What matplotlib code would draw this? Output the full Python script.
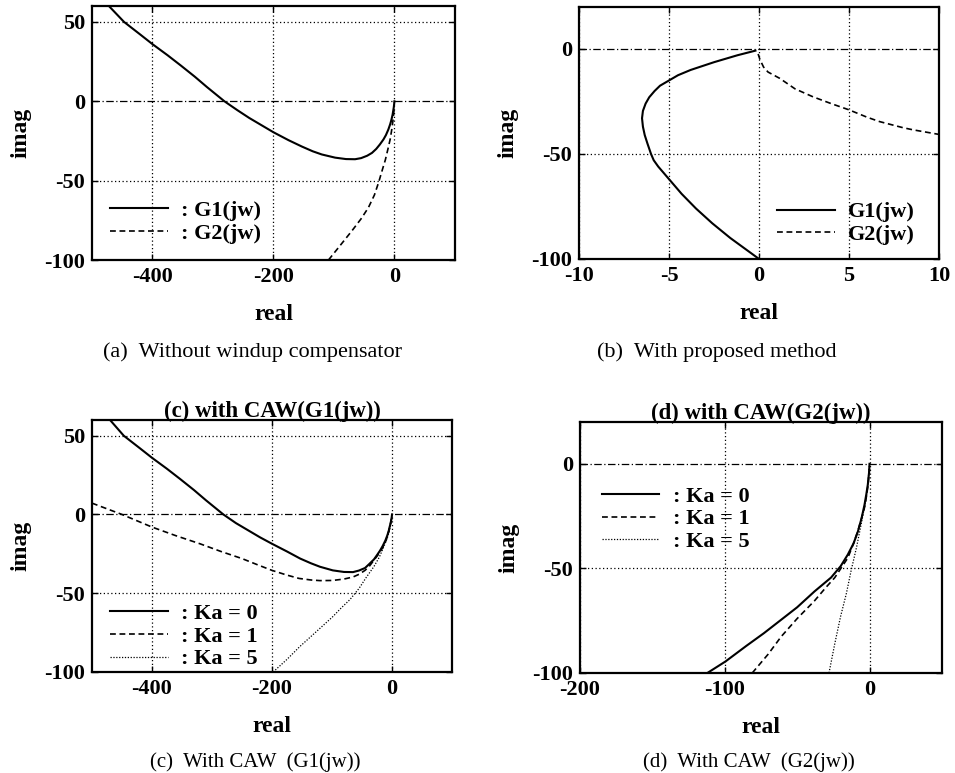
import numpy as np
import matplotlib
matplotlib.use("Agg")
import matplotlib.pyplot as plt

plt.rcParams['font.family'] = ['Liberation Serif', 'DejaVu Serif']
plt.rcParams['axes.unicode_minus'] = False

# --- data ---
# (a) without windup compensator
a_g1_re = [-472, -447, -420, -400, -375, -353, -330, -310, -281, -260, -240, -220, -200, -175,
           -153, -135, -120, -98, -80, -65, -55, -45, -37, -30, -24, -18, -14, -10, -7, -5, -3, -2, -1, -0.3, 0]
a_g1_im = [60, 50, 42, 36, 29, 22.5, 15.5, 9, 0, -5.5, -10.5, -15, -19.5, -24.5,
           -28.5, -31.5, -33.5, -35.5, -36.4, -36.5, -35.8, -34.3, -32.5, -30, -27.2, -24, -21.3, -17.8, -14.5, -11.8, -8.5, -6.2, -3.8, -1.5, 0]
a_g2_re = [-109, -90, -70, -55, -43, -33, -26, -19, -15, -10, -7, -4, -2, -0.5]
a_g2_im = [-100, -91, -81.5, -74, -67, -59, -51, -42, -37, -29, -24, -17, -11, -5]

# (b) with proposed method
b_g1_re = [-0.2, -1.2, -2.5, -3.8, -4.5, -5, -5.5, -5.8, -6.1, -6.3, -6.45, -6.5, -6.45, -6.35, -6.2, -6.0,
           -5.85, -5.6, -5.3, -5, -4.3, -3.5, -2.6, -1.6, -0.8, 0]
b_g1_im = [-0.8, -3, -6.3, -10, -12.5, -15, -17.5, -20, -23, -26, -29.5, -33, -37, -41, -45, -50,
           -53, -56, -59, -62, -69, -76, -83, -90, -95, -100]
b_g2_re = [-0.05, 0.05, 0.25, 0.5, 1.15, 2, 3, 4, 5, 6, 6.7, 8, 8.55, 10]
b_g2_im = [-2.4, -5, -8.6, -11, -14, -19, -22.8, -26, -29, -32.5, -34.6, -37.5, -38.5, -40.7]

# (c) with CAW, G1
c_k0_re = [-469, -447, -420, -400, -375, -353, -330, -310, -281, -260, -240, -220, -200, -175, -153, -135,
           -120, -98.6, -80, -65, -55, -45, -38, -30, -25, -20, -15.5, -11, -8, -5.5, -4, -2.5, -1, -0.3, 0]
c_k0_im = [59.6, 50, 42, 36, 29, 22.5, 15.5, 9, 0, -5.5, -10, -14.5, -18.6, -23.5, -28, -31,
           -33.2, -35.5, -36.5, -36.6, -35.6, -34, -31.5, -28.5, -25.8, -23, -20, -16.5, -13.5, -10.5, -8, -5.8, -3, -1.2, 0]
c_k1_re = [-500, -450, -400, -360, -320, -285, -250, -225, -200, -175, -155, -135, -120, -99, -80, -65,
           -55, -45, -38, -30, -22, -15, -10, -6, -4, -2, -1, 0]
c_k1_im = [7.2, 0, -8, -13.5, -18.6, -23.5, -28, -31.8, -35.5, -38.5, -40.6, -41.6, -42, -41.9, -41, -39.7,
           -38, -35.5, -33, -29, -25, -20.7, -16.5, -11.5, -8.3, -5, -3, 0]
c_k5_re = [-198, -175, -154, -125, -99, -85, -70, -55, -43, -30, -21, -12, -7, -4, -2, -0.5, 0]
c_k5_im = [-100, -92, -84, -74, -65, -59.5, -54, -47, -40, -33, -27, -19, -14, -9.5, -6, -2, 0]

# (d) with CAW, G2
d_k0_re = [-112, -99.5, -85, -73, -60, -50, -38, -26.6, -20, -15, -11, -8, -5.5, -3.5, -2.2, -1.2, -0.3, 0]
d_k0_im = [-100, -94.5, -87, -81, -74, -68.6, -61, -54.4, -49, -43.4, -38, -32.3, -26, -19.7, -14.5, -10, -4, 0]
d_k1_re = [-81, -70, -61, -50, -38, -30, -24, -15, -11, -8, -5.5, -3.5, -2, -1, 0]
d_k1_im = [-100, -91, -82.6, -74, -65.5, -59, -54.4, -45, -38, -32, -26, -21, -15, -10, -2.4]
d_k5_re = [-28, -24, -20, -16, -12.7, -9, -5.8, -4, -2.3, -1.2, -0.5, 0]
d_k5_im = [-100, -86, -73, -62, -51, -40, -29, -22.5, -16.6, -10.5, -4, 0]

ka_labels = [': Ka = 0', ': Ka = 1', ': Ka = 5']

SOLID = '-'
DASH = (0, (3.5, 2.2))
DOT = (0, (1, 1.3))

fig = plt.figure(figsize=(9.55, 7.73), dpi=100)


def setup(ax, xlim, ylim, xticks, yticks):
    ax.set_xlim(*xlim)
    ax.set_ylim(*ylim)
    ax.set_xticks(xticks)
    ax.set_yticks(yticks)
    for x in xticks:
        ax.axvline(x, color='k', lw=0.9, ls=(0, (1, 2)), zorder=1)
    for y in yticks:
        if y == 0:
            ax.axhline(0, color='k', lw=0.9, ls=(0, (6, 2, 1, 2)), zorder=1)
        else:
            ax.axhline(y, color='k', lw=0.9, ls=(0, (1, 2)), zorder=1)
    ax.tick_params(direction='in', top=True, right=True, length=4, width=1,
                   labelsize=16, pad=5)
    for lab in ax.get_xticklabels() + ax.get_yticklabels():
        lab.set_fontweight('bold')
    for s in ax.spines.values():
        s.set_linewidth(1.6)
    ax.set_xlabel('real', fontsize=17, fontweight='bold', labelpad=12)
    ax.set_ylabel('imag', fontsize=17, fontweight='bold', labelpad=9)


leg_kw = dict(frameon=False, handlelength=2.6, handletextpad=0.6,
              labelspacing=0.1, borderaxespad=0, borderpad=0,
              prop={'size': 16, 'weight': 'bold'})

# (a)
ax = fig.add_axes([0.0963, 0.6636, 0.380, 0.3286])
setup(ax, (-500, 100), (-100, 60), [-400, -200, 0], [-100, -50, 0, 50])
ax.plot(a_g1_re, a_g1_im, color='k', lw=1.5, ls=SOLID, label=': G1(jw)')
ax.plot(a_g2_re, a_g2_im, color='k', lw=1.2, ls=DASH, label=': G2(jw)')
ax.legend(loc='lower left', bbox_to_anchor=(0.05, 0.065), **leg_kw)
fig.text(0.264, 0.545, '(a)  Without windup compensator', ha='center', va='center',
         fontsize=16)

# (b)
ax = fig.add_axes([0.6063, 0.665, 0.377, 0.326])
setup(ax, (-10, 10), (-100, 20), [-10, -5, 0, 5, 10], [-100, -50, 0])
ax.plot(b_g1_re, b_g1_im, color='k', lw=1.5, ls=SOLID, label='G1(jw)')
ax.plot(b_g2_re, b_g2_im, color='k', lw=1.2, ls=DASH, label='G2(jw)')
ax.legend(loc='lower left', bbox_to_anchor=(0.55, 0.055), **leg_kw)
fig.text(0.75, 0.545, '(b)  With proposed method', ha='center', va='center',
         fontsize=16)

# (c)
ax = fig.add_axes([0.0963, 0.1307, 0.377, 0.326])
setup(ax, (-500, 100), (-100, 60), [-400, -200, 0], [-100, -50, 0, 50])
ax.plot(c_k0_re, c_k0_im, color='k', lw=1.5, ls=SOLID, label=ka_labels[0])
ax.plot(c_k1_re, c_k1_im, color='k', lw=1.2, ls=DASH, label=ka_labels[1])
ax.plot(c_k5_re, c_k5_im, color='k', lw=0.9, ls=DOT, label=ka_labels[2])
ax.set_title('(c) with CAW(G1(jw))', fontsize=16.5, fontweight='bold', pad=2)
ax.legend(loc='lower left', bbox_to_anchor=(0.05, 0.01), **leg_kw)
fig.text(0.267, 0.014, '(c)  With CAW  (G1(jw))', ha='center', va='center',
         fontsize=15)

# (d)
ax = fig.add_axes([0.6073, 0.1294, 0.379, 0.3247])
setup(ax, (-200, 50), (-100, 20), [-200, -100, 0], [-100, -50, 0])
ax.plot(d_k0_re, d_k0_im, color='k', lw=1.5, ls=SOLID, label=ka_labels[0])
ax.plot(d_k1_re, d_k1_im, color='k', lw=1.2, ls=DASH, label=ka_labels[1])
ax.plot(d_k5_re, d_k5_im, color='k', lw=0.9, ls=DOT, label=ka_labels[2])
ax.set_title('(d) with CAW(G2(jw))', fontsize=16.5, fontweight='bold', pad=2)
ax.legend(loc='upper left', bbox_to_anchor=(0.06, 0.745), **leg_kw)
fig.text(0.784, 0.014, '(d)  With CAW  (G2(jw))', ha='center', va='center',
         fontsize=15)

fig.savefig('out.png', dpi=100)
